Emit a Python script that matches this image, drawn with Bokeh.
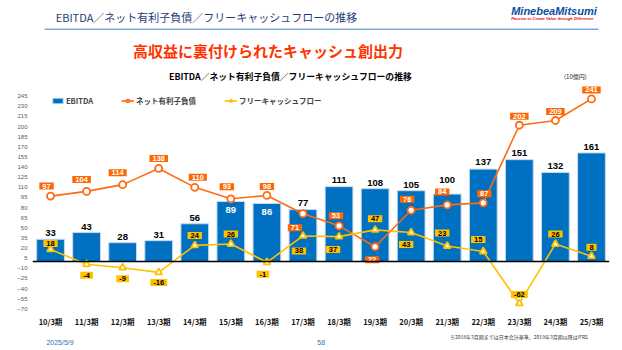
from bokeh.plotting import figure
from bokeh.layouts import column
from bokeh.models import (ColumnDataSource, FixedTicker, Span, Label, Legend, LegendItem,
                          BoxAnnotation, FactorRange, Range1d)
from bokeh.core.properties import value
from bokeh.embed import file_html
from bokeh.resources import INLINE

# ---------------- data ----------------
categories = ["10/3期", "11/3期", "12/3期", "13/3期", "14/3期", "15/3期", "16/3期", "17/3期",
              "18/3期", "19/3期", "20/3期", "21/3期", "22/3期", "23/3期", "24/3期", "25/3期"]
ebitda = [33, 43, 28, 31, 56, 89, 86, 77, 111, 108, 105, 100, 137, 151, 132, 161]
net_debt = [97, 104, 114, 138, 110, 93, 98, 71, 53, 22, 76, 84, 87, 202, 209, 241]
fcf = [18, -4, -9, -16, 24, 26, -1, 38, 37, 47, 43, 23, 15, -62, 26, 8]
y_ticks = [-70, -55, -40, -25, -10, 5, 20, 35, 50, 65, 80, 95, 110, 125, 140, 155, 170,
           185, 200, 215, 230, 245]

# ---------------- label placement (style only) ----------------
ebitda_inside = [False, False, False, False, False, True, True, False,
                 False, False, False, False, False, False, False, False]
ebitda_dy = [-6, -6, -6, -6, -6, 8, 8, -7, -7, -6, -6, -14, -7, -7, -6, -6]
debt_dx = [-4, -5, -5, 0, 3, -4, 0, -8, -3, -3, -4, -5, 1, 0, 0, 0]
debt_dy = [-10, -12, -12, -10, -10, -12, -9, 14, -10, 13, -11, -13, -9, -9, -9, -9]
fcf_dx = [0, 0, 0, 0, 0, 0, -4, -4, -6, 0, -5, -5, -5, 0, 0, 0]
fcf_dy = [-6, 11, 11, 10, -10, -10, 12, 15, 13, -11, 12, -13, -12, -9, -10, -9]

BLUE = "#0070c0"
ORANGE = "#ff6a13"
ORANGE_BOX = "#ff6600"
YELLOW = "#ffc000"
JP = "Noto Sans CJK JP"
NUM = "Liberation Sans"
W = 622
HEAD_H = 82
FOOT_H = 20
MAIN_H = 350 - HEAD_H - FOOT_H


def blank(h, y0, y1):
    f = figure(width=W, height=h, output_backend="svg", toolbar_location=None,
               x_range=Range1d(0, W), y_range=Range1d(y1, y0),
               x_axis_type=None, y_axis_type=None,
               min_border_left=0, min_border_right=0, min_border_top=0, min_border_bottom=0)
    f.outline_line_color = None
    f.grid.visible = False
    f.background_fill_color = "white"
    f.border_fill_color = "white"
    return f


def lab(f, text, cx, cy, size, color="black", font=JP, style="normal", align="left"):
    f.add_layout(Label(x=cx, y=cy, text=text, text_font=font, text_font_size=size,
                       text_color=color, text_font_style=style, text_align=align,
                       text_baseline="middle"))


# ---------------- header ----------------
head = blank(HEAD_H, 0, HEAD_H)
lab(head, "EBITDA／ネット有利子負債／フリーキャッシュフローの推移", 25, 16, "11px", "#1f3c78")
lab(head, "MinebeaMitsumi", 516, 10, "11px", "#0a4da2", NUM, "bold italic")
lab(head, "Passion to Create Value through Difference", 516, 17.5, "4px", "#e60012", NUM, "bold italic")
head.add_layout(BoxAnnotation(left=13, right=610, top=28, bottom=29.5,
                              fill_color="#7ea6d8", fill_alpha=1, line_color=None))
lab(head, "高収益に裏付けられたキャッシュ創出力", 254, 50, "15px", "#ff3300", JP, "bold", "center")
lab(head, "EBITDA／ネット有利子負債／フリーキャッシュフローの推移", 278, 76, "8.8px", "black", JP, "bold", "center")
lab(head, "(10億円)", 573, 76, "6px", "#222222")

# ---------------- main chart ----------------
# frame: canvas x 32..609, canvas y 82..312 ; value 0 at canvas y 261.1, 0.675 px/unit
p = figure(width=W, height=MAIN_H, output_backend="svg", toolbar_location=None,
           x_range=FactorRange(*categories, range_padding=0),
           y_range=Range1d(-75.4, 265.3),
           min_border_left=32, min_border_right=13, min_border_top=0, min_border_bottom=18)
p.outline_line_color = None
p.background_fill_color = "white"
p.border_fill_color = "white"
p.xgrid.grid_line_color = None
p.ygrid.grid_line_color = None

for ax in (p.xaxis, p.yaxis):
    ax.axis_line_color = None
    ax.major_tick_line_color = None
    ax.minor_tick_line_color = None
    ax.major_tick_out = 0
    ax.major_tick_in = 0
    ax.minor_tick_out = 0
    ax.minor_tick_in = 0

p.yaxis.ticker = FixedTicker(ticks=y_ticks)
p.yaxis.major_label_standoff = 5
p.yaxis.major_label_text_font = NUM
p.yaxis.major_label_text_font_size = "6px"
p.yaxis.major_label_text_color = "#595959"

p.xaxis.major_label_standoff = 3
p.xaxis.major_label_text_font = JP
p.xaxis.major_label_text_font_size = "7.5px"
p.xaxis.major_label_text_font_style = "bold"
p.xaxis.major_label_text_color = "#111111"

src = ColumnDataSource(dict(
    x=categories, ebitda=ebitda, debt=net_debt, fcf=fcf,
    ebitda_txt=[str(v) for v in ebitda],
    debt_txt=[str(v) for v in net_debt],
    fcf_txt=[str(v) for v in fcf],
    eb_color=["white" if f else "black" for f in ebitda_inside],
    eb_dy=ebitda_dy,
    debt_dx=debt_dx, debt_dy=debt_dy, fcf_dx=fcf_dx, fcf_dy=fcf_dy,
))

bars = p.vbar(x="x", top="ebitda", width=0.77, source=src, fill_color=BLUE,
              line_color="#c5d9f0", line_width=1)

p.add_layout(Span(location=0, dimension="width", line_color="black", line_width=1.5))

l1 = p.line(x="x", y="debt", source=src, line_color=ORANGE, line_width=1.6)
s1 = p.scatter(x="x", y="debt", source=src, marker="circle", size=7,
               fill_color="white", line_color=ORANGE, line_width=1.8)
l2 = p.line(x="x", y="fcf", source=src, line_color=YELLOW, line_width=1.6)
s2 = p.scatter(x="x", y="fcf", source=src, marker="triangle", size=7,
               fill_color="white", line_color=YELLOW, line_width=1.8)

p.text(x="x", y="ebitda", text="ebitda_txt", source=src, y_offset="eb_dy",
       text_align="center", text_baseline="middle", text_color="eb_color",
       text_font=value(NUM), text_font_style="bold", text_font_size="9.5px")
p.text(x="x", y="debt", text="debt_txt", source=src, x_offset="debt_dx", y_offset="debt_dy",
       text_align="center", text_baseline="middle", text_color="white",
       text_font=value(NUM), text_font_style="bold", text_font_size="7.5px",
       background_fill_color=ORANGE_BOX, padding=(3, 1))
p.text(x="x", y="fcf", text="fcf_txt", source=src, x_offset="fcf_dx", y_offset="fcf_dy",
       text_align="center", text_baseline="middle", text_color="black",
       text_font=value(NUM), text_font_style="bold", text_font_size="7.5px",
       background_fill_color=YELLOW, padding=(3, 1))

legend = Legend(items=[LegendItem(label="EBITDA", renderers=[bars]),
                       LegendItem(label="ネット有利子負債", renderers=[l1, s1]),
                       LegendItem(label="フリーキャッシュフロー", renderers=[l2, s2])],
                orientation="horizontal", location=(19, 206), spacing=28, padding=0, margin=0,
                label_standoff=2, glyph_width=13, glyph_height=7, label_height=8,
                label_text_font=JP, label_text_font_size="7.5px", label_text_font_style="bold",
                background_fill_alpha=0, border_line_color=None)
p.add_layout(legend)

# ---------------- footer ----------------
foot = blank(FOOT_H, 330, 350)
lab(foot, "2025/5/9", 15, 342, "7px", "#2f75b5", NUM)
lab(foot, "58", 307, 342, "7px", "#2f75b5", NUM)
lab(foot, "※2018年3月期までは日本会計基準、2019年3月期以降はIFRS", 450, 336, "5px", "#333333")

layout = column(head, p, foot, spacing=0)
open("out.html", "w").write(file_html(layout, INLINE))
